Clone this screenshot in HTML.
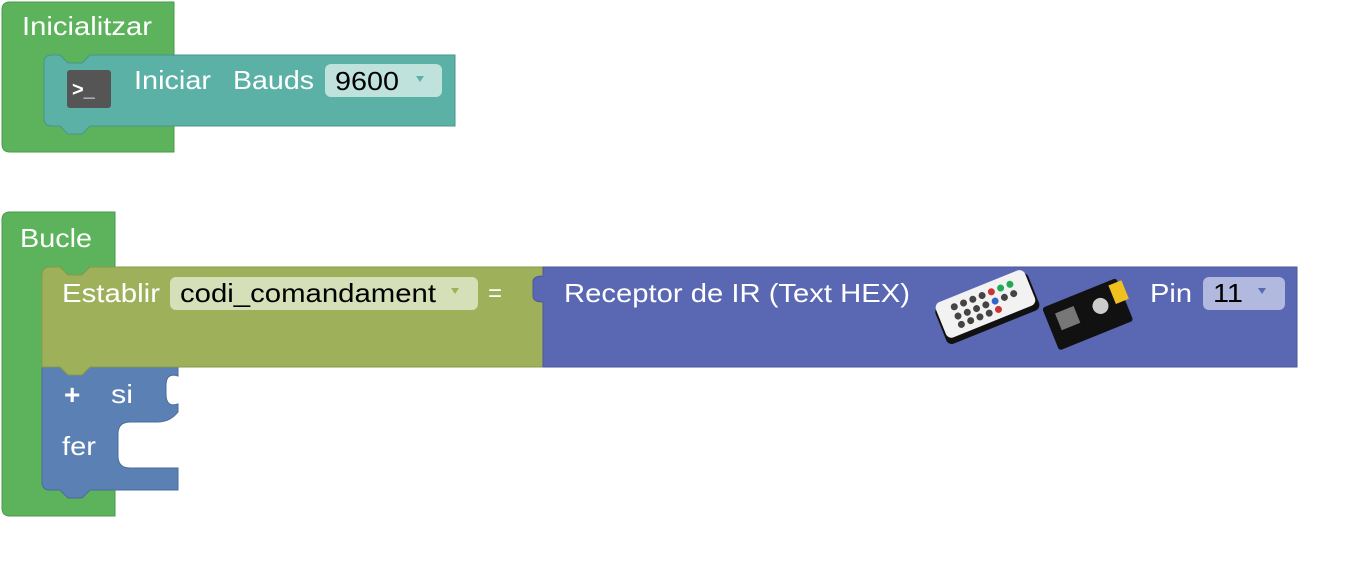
<!DOCTYPE html>
<html><head><meta charset="utf-8"><style>
html,body{margin:0;padding:0;background:#fff;}
svg text{font-family:"Liberation Sans",Arial,sans-serif;}
</style></head><body>
<svg width="1351" height="557" viewBox="0 0 1351 557" xmlns="http://www.w3.org/2000/svg">
<!-- Inicialitzar -->
<path d="M10,2 H174 V55 H90 l-8,8 h-14 l-8,-8 H52 q-8,0 -8,8 V118 q0,8 8,8 H174 V152 H10 q-8,0 -8,-8 V10 q0,-8 8,-8Z" fill="#5cb35c" stroke="#4a9a4a" stroke-width="1"/>
<text x="22" y="35" font-size="26" fill="#fff" textLength="130" lengthAdjust="spacingAndGlyphs">Inicialitzar</text>
<path d="M52,55 H60 l8,8 h14 l8,-8 H455 V126 H90 l-8,8 h-14 l-8,-8 H52 q-8,0 -8,-8 V63 q0,-8 8,-8Z" fill="#5bb1a5" stroke="#4a968b" stroke-width="1"/>
<rect x="67" y="70" width="44" height="38" rx="3" fill="#555"/>
<text x="72" y="96" font-size="20" fill="#fff" font-weight="bold">&gt;_</text>
<text x="134" y="89" font-size="26" fill="#fff" textLength="77" lengthAdjust="spacingAndGlyphs">Iniciar</text>
<text x="233" y="89" font-size="26" fill="#fff" textLength="81" lengthAdjust="spacingAndGlyphs">Bauds</text>
<rect x="325" y="64" width="117" height="33" rx="6" fill="#bfe2dc"/>
<text x="335" y="90" font-size="26" fill="#000" textLength="64" lengthAdjust="spacingAndGlyphs">9600</text>
<path d="M416,76 h8 l-4,6z" fill="#5bb1a5"/>

<!-- Bucle -->
<path d="M10,212 H115 V267 H90 l-8,8 h-14 l-8,-8 H50 q-8,0 -8,8 V482 q0,8 8,8 H115 V516 H10 q-8,0 -8,-8 V220 q0,-8 8,-8Z" fill="#5cb35c" stroke="#4a9a4a" stroke-width="1"/>
<text x="20" y="247" font-size="26" fill="#fff" textLength="72" lengthAdjust="spacingAndGlyphs">Bucle</text>
<!-- si/fer -->
<path d="M42,367 H178 V376 q-12,-4 -12,10 v8 q0,14 12,10 V412 q-8,10 -20,10 H130 q-12,0 -12,12 V456 q0,12 12,12 H178 V490 H90 l-8,8 h-14 l-8,-8 H50 q-8,0 -8,-8Z" fill="#5b80b3" stroke="#4b6d99" stroke-width="1"/>
<!-- Establir -->
<path d="M50,267 H60 l8,8 h14 l8,-8 H543 V367 H90 l-8,8 h-14 l-8,-8 H42 V275 q0,-8 8,-8Z" fill="#9eb15a" stroke="#87994a" stroke-width="1"/>
<text x="62" y="302" font-size="26" fill="#fff" textLength="98" lengthAdjust="spacingAndGlyphs">Establir</text>
<rect x="170" y="277" width="308" height="33" rx="6" fill="#d6e0b8"/>
<text x="180" y="302" font-size="26" fill="#000" textLength="256" lengthAdjust="spacingAndGlyphs">codi_comandament</text>
<path d="M451,288 h8 l-4,6z" fill="#9eb15a"/>
<text x="488" y="301" font-size="24" fill="#fff">=</text>
<!-- Receptor -->
<path d="M543,267 H1297 V367 H543 V302 q-10,0 -10,-6 v-14 q0,-6 10,-6Z" fill="#5a68b3" stroke="#4a5799" stroke-width="1"/>
<text x="564" y="302" font-size="26" fill="#fff" textLength="346" lengthAdjust="spacingAndGlyphs">Receptor de IR (Text HEX)</text>
<g transform="translate(932,305) rotate(-22)">
<rect x="0" y="4" width="100" height="40" rx="6" fill="#111"/>
<rect x="2" y="0" width="96" height="38" rx="6" fill="#f2f2f2"/>
<g fill="#444"><circle cx="20" cy="10" r="3.5"/><circle cx="30" cy="10" r="3.5"/><circle cx="40" cy="10" r="3.5"/><circle cx="50" cy="10" r="3.5"/><circle cx="20" cy="20" r="3.5"/><circle cx="30" cy="20" r="3.5"/><circle cx="40" cy="20" r="3.5"/><circle cx="50" cy="20" r="3.5"/><circle cx="20" cy="29" r="3.5"/><circle cx="30" cy="29" r="3.5"/><circle cx="40" cy="29" r="3.5"/><circle cx="50" cy="29" r="3.5"/><circle cx="70" cy="20" r="3.5"/><circle cx="80" cy="20" r="3.5"/></g>
<circle cx="60" cy="10" r="3.5" fill="#c33"/><circle cx="70" cy="10" r="3.5" fill="#2a5"/><circle cx="60" cy="20" r="3.5" fill="#36c"/><circle cx="80" cy="10" r="3.5" fill="#2a5"/><circle cx="60" cy="29" r="3.5" fill="#c33"/>
</g>
<g transform="translate(1042,308) rotate(-22)">
<rect x="0" y="0" width="80" height="46" rx="3" fill="#111"/>
<rect x="10" y="10" width="20" height="18" fill="#777"/>
<circle cx="55" cy="20" r="8" fill="#ccc"/>
<rect x="70" y="4" width="14" height="20" fill="#f0c020"/>
</g>
<text x="1150" y="302" font-size="26" fill="#fff" textLength="42" lengthAdjust="spacingAndGlyphs">Pin</text>
<rect x="1203" y="277" width="82" height="33" rx="6" fill="#b2b9de"/>
<text x="1213" y="302" font-size="26" fill="#000" textLength="30" lengthAdjust="spacingAndGlyphs">11</text>
<path d="M1258,288 h8 l-4,6z" fill="#5a68b3"/>
<text x="64" y="404" font-size="28" fill="#fff" font-weight="bold">+</text>
<text x="111" y="403" font-size="26" fill="#fff" textLength="22" lengthAdjust="spacingAndGlyphs">si</text>
<text x="62" y="455" font-size="26" fill="#fff" textLength="34" lengthAdjust="spacingAndGlyphs">fer</text>
</svg>
</body></html>
